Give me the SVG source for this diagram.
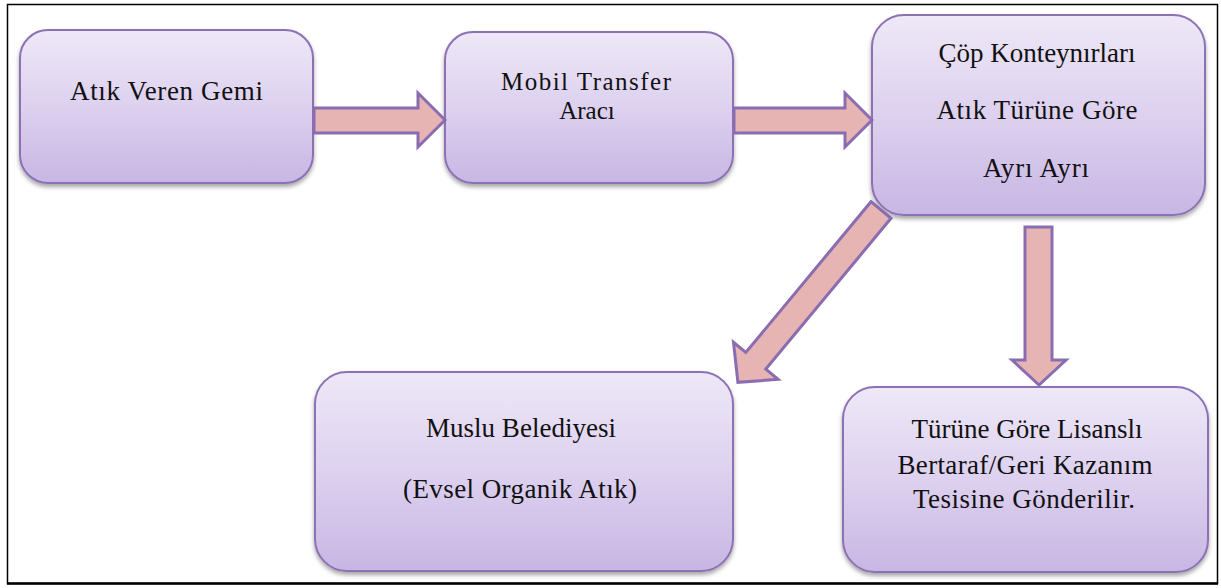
<svg xmlns="http://www.w3.org/2000/svg" width="1221" height="588" viewBox="0 0 1221 588">
  <style>
    .box { fill: url(#boxFill); stroke: #8c72b4; stroke-width: 2; filter: url(#shadow); }
    .arrow { fill: #e6b4b2; stroke: #8a6cb0; stroke-width: 3; stroke-linejoin: miter; }
    .label { font-family: "Times New Roman", "Liberation Serif", "DejaVu Serif", Times, serif; font-size: 27px; fill: #111; text-anchor: middle; }
    .tight { font-size: 25px; }
  </style>
  <defs>
    <linearGradient id="boxFill" x1="0" y1="0" x2="0" y2="1">
      <stop offset="0" stop-color="#eee8f7"/>
      <stop offset="0.5" stop-color="#ddd1ef"/>
      <stop offset="1" stop-color="#c8b6e4"/>
    </linearGradient>
    <filter id="shadow" x="-10%" y="-10%" width="120%" height="130%">
      <feDropShadow dx="0" dy="3" stdDeviation="2" flood-color="#000" flood-opacity="0.35"/>
    </filter>
  </defs>

  <!-- outer frame -->
  <rect x="7.5" y="4.5" width="1210" height="579" fill="#fff" stroke="#000" stroke-width="1.5"/>
  <line x1="7" y1="583.5" x2="1218" y2="583.5" stroke="#000" stroke-width="2.5"/>

  <g id="node-gemi">
    <rect class="box" x="20" y="30" width="293" height="153" rx="28"/>
    <text class="label" x="166.5" y="100" textLength="193" lengthAdjust="spacing">Atık Veren Gemi</text>
  </g>

  <g id="node-mobil">
    <rect class="box" x="445" y="32" width="288" height="151" rx="28"/>
    <text class="label tight" x="586" y="90" textLength="170" lengthAdjust="spacing">Mobil Transfer</text>
    <text class="label tight" x="587" y="119">Aracı</text>
  </g>

  <g id="node-cop">
    <rect class="box" x="872" y="15" width="333" height="200" rx="32"/>
    <text class="label" x="1037" y="62" textLength="197" lengthAdjust="spacing">Çöp Konteynırları</text>
    <text class="label" x="1037" y="119" textLength="201" lengthAdjust="spacing">Atık Türüne Göre</text>
    <text class="label" x="1036" y="177" textLength="106" lengthAdjust="spacing">Ayrı Ayrı</text>
  </g>

  <g id="node-muslu">
    <rect class="box" x="315" y="372" width="418" height="199" rx="32"/>
    <text class="label" x="521" y="437" textLength="190" lengthAdjust="spacing">Muslu Belediyesi</text>
    <text class="label" x="520" y="498" textLength="234" lengthAdjust="spacing">(Evsel Organik Atık)</text>
  </g>

  <g id="node-lisans">
    <rect class="box" x="843" y="387" width="365" height="185" rx="32"/>
    <text class="label" x="1027" y="438" textLength="231" lengthAdjust="spacing">Türüne Göre Lisanslı</text>
    <text class="label" x="1025" y="474" textLength="255" lengthAdjust="spacing">Bertaraf/Geri Kazanım</text>
    <text class="label" x="1024" y="508" textLength="222" lengthAdjust="spacing">Tesisine Gönderilir.</text>
  </g>

  <g id="connectors">
    <!-- gemi -> mobil -->
    <polygon class="arrow" points="314,108 418,108 418,93 445,120 418,147 418,133 314,133"/>
    <!-- mobil -> cop -->
    <polygon class="arrow" points="734,108 845,108 845,93 872,120 845,147 845,133 734,133"/>
    <!-- cop -> muslu (diagonal) -->
    <polygon class="arrow" transform="translate(881,210) rotate(129.7)" points="0,-13 196,-13 196,-29 224,0 196,29 196,13 0,13"/>
    <!-- cop -> lisans (down) -->
    <polygon class="arrow" points="1025,227 1052,227 1052,360 1066,360 1039,385 1012,360 1025,360"/>
  </g>
</svg>
